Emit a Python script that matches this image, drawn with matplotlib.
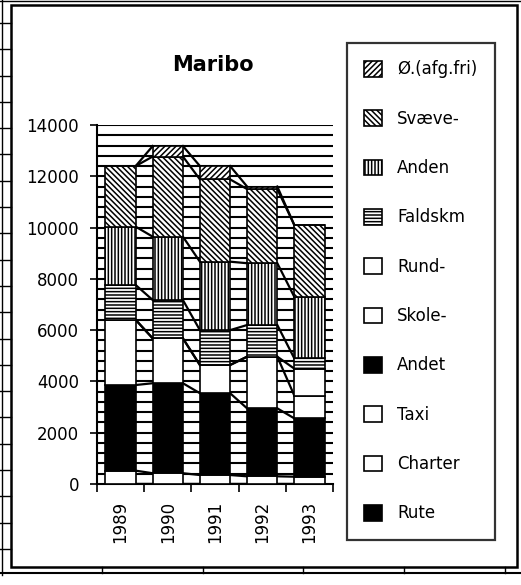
import matplotlib
matplotlib.use("Agg")
import matplotlib.pyplot as plt
from matplotlib.patches import Rectangle, Patch
from matplotlib.lines import Line2D
import numpy as np

plt.rcParams['font.family'] = ['DejaVu Sans']
plt.rcParams['hatch.linewidth'] = 1.1

years = ['1989', '1990', '1991', '1992', '1993']
rute = [0, 0, 0, 0, 0]
charter = [0, 0, 0, 0, 0]
taxi = [520, 420, 350, 300, 285]
andet = [3340, 3510, 3190, 2650, 2275]
skole = [2540, 1750, 1100, 2015, 890]
rund = [0, 0, 0, 0, 1050]
faldskm = [1360, 1495, 1360, 1235, 400]
anden = [2275, 2470, 2670, 2410, 2400]
svaeve = [2365, 3125, 3210, 2890, 2800]
oe = [0, 410, 520, 100, 0]

series_names = ['Rute', 'Charter', 'Taxi', 'Andet', 'Skole-', 'Rund-',
                'Faldskm', 'Anden', 'Svæve-', 'Ø.(afg.fri)']
series_vals = [rute, charter, taxi, andet, skole, rund, faldskm, anden, svaeve, oe]
styles = [
    dict(facecolor='black', hatch=None),
    dict(facecolor='white', hatch=None),
    dict(facecolor='white', hatch=None),
    dict(facecolor='black', hatch=None),
    dict(facecolor='white', hatch=None),
    dict(facecolor='white', hatch=None),
    dict(facecolor='white', hatch='-----'),
    dict(facecolor='white', hatch='|||||'),
    dict(facecolor='white', hatch='\\' * 6),
    dict(facecolor='white', hatch='//////'),
]

W, H = 521, 585
fig = plt.figure(figsize=(W / 100, H / 100), dpi=100)
fig.patch.set_facecolor('white')

def fx(px):
    return px / W

def fy(py):
    return 1 - py / H

ax = fig.add_axes([fx(97), fy(484), fx(333) - fx(97), fy(125) - fy(484)])
ax.set_xlim(-0.5, len(years) - 0.5)
ax.set_ylim(0, 14000)

# striped plot-area background
ax.hlines(np.arange(400, 14001, 400), -0.5, len(years) - 0.5,
          colors='black', linewidth=1.5, zorder=0)

x = np.arange(len(years))
bw = 0.64
bottom = np.zeros(len(years))
for name, vals, st in zip(series_names, series_vals, styles):
    v = np.array(vals, dtype=float)
    ax.bar(x, v, bw, bottom=bottom, facecolor=st['facecolor'],
           edgecolor='black', hatch=st['hatch'], linewidth=1.2, zorder=3)
    top = bottom + v
    # series lines
    for i in range(len(years) - 1):
        ax.plot([x[i] + bw / 2, x[i + 1] - bw / 2], [top[i], top[i + 1]],
                color='black', linewidth=1.6, zorder=2)
    bottom = top

ax.set_yticks(np.arange(0, 14001, 2000))
ax.set_yticklabels([str(v) for v in range(0, 14001, 2000)], fontsize=12)
ax.tick_params(axis='y', length=5, width=1.2, pad=8, direction='out')
ax.set_xticks(np.arange(-0.5, len(years), 1.0))
ax.set_xticklabels([])
ax.tick_params(axis='x', which='major', length=6, width=1.2, direction='out')
ax.set_xticks(x, minor=True)
ax.set_xticklabels(years, minor=True, rotation=90, fontsize=12)
ax.tick_params(axis='x', which='minor', length=0, pad=12)
for s in ['top', 'right']:
    ax.spines[s].set_visible(False)
for s in ['left', 'bottom']:
    ax.spines[s].set_linewidth(1.5)
ax.set_facecolor('white')

fig.text(fx(213), fy(65), 'Maribo', ha='center', va='center',
         fontsize=15, fontweight='bold')

handles = [Patch(facecolor=st['facecolor'], edgecolor='black', hatch=st['hatch'],
                 linewidth=1.2) for st in styles]
leg = fig.legend(handles[::-1], series_names[::-1], loc='upper left',
                 bbox_to_anchor=(fx(347), fy(43)), fontsize=12,
                 handlelength=1.05, handleheight=1.05, handletextpad=0.9,
                 labelspacing=1.88, borderpad=1.05, borderaxespad=0,
                 fancybox=False, frameon=True, edgecolor='black')
leg.get_frame().set_linewidth(1.6)

# chart frame
fig.patches.append(Rectangle((fx(11), fy(567)), fx(517) - fx(11), fy(5) - fy(567),
                             transform=fig.transFigure, fill=False,
                             edgecolor='black', linewidth=1.8))
# spreadsheet grid remnants
fig.lines.append(Line2D([fx(2), fx(2)], [fy(0), fy(575)], transform=fig.transFigure,
                        color='black', linewidth=1))
for yy in np.arange(23, 575, 26.3):
    fig.lines.append(Line2D([fx(0), fx(11)], [fy(yy), fy(yy)], transform=fig.transFigure,
                            color='black', linewidth=1))
fig.lines.append(Line2D([fx(0), fx(521)], [fy(573), fy(573)], transform=fig.transFigure,
                        color='black', linewidth=1.5))
for xx in [102, 203, 303, 404, 505]:
    fig.lines.append(Line2D([fx(xx), fx(xx)], [fy(567), fy(573)], transform=fig.transFigure,
                            color='black', linewidth=1))
fig.lines.append(Line2D([fx(0), fx(521)], [fy(1), fy(1)], transform=fig.transFigure,
                        color='black', linewidth=1))

fig.savefig('out.png', dpi=100, facecolor='white')
